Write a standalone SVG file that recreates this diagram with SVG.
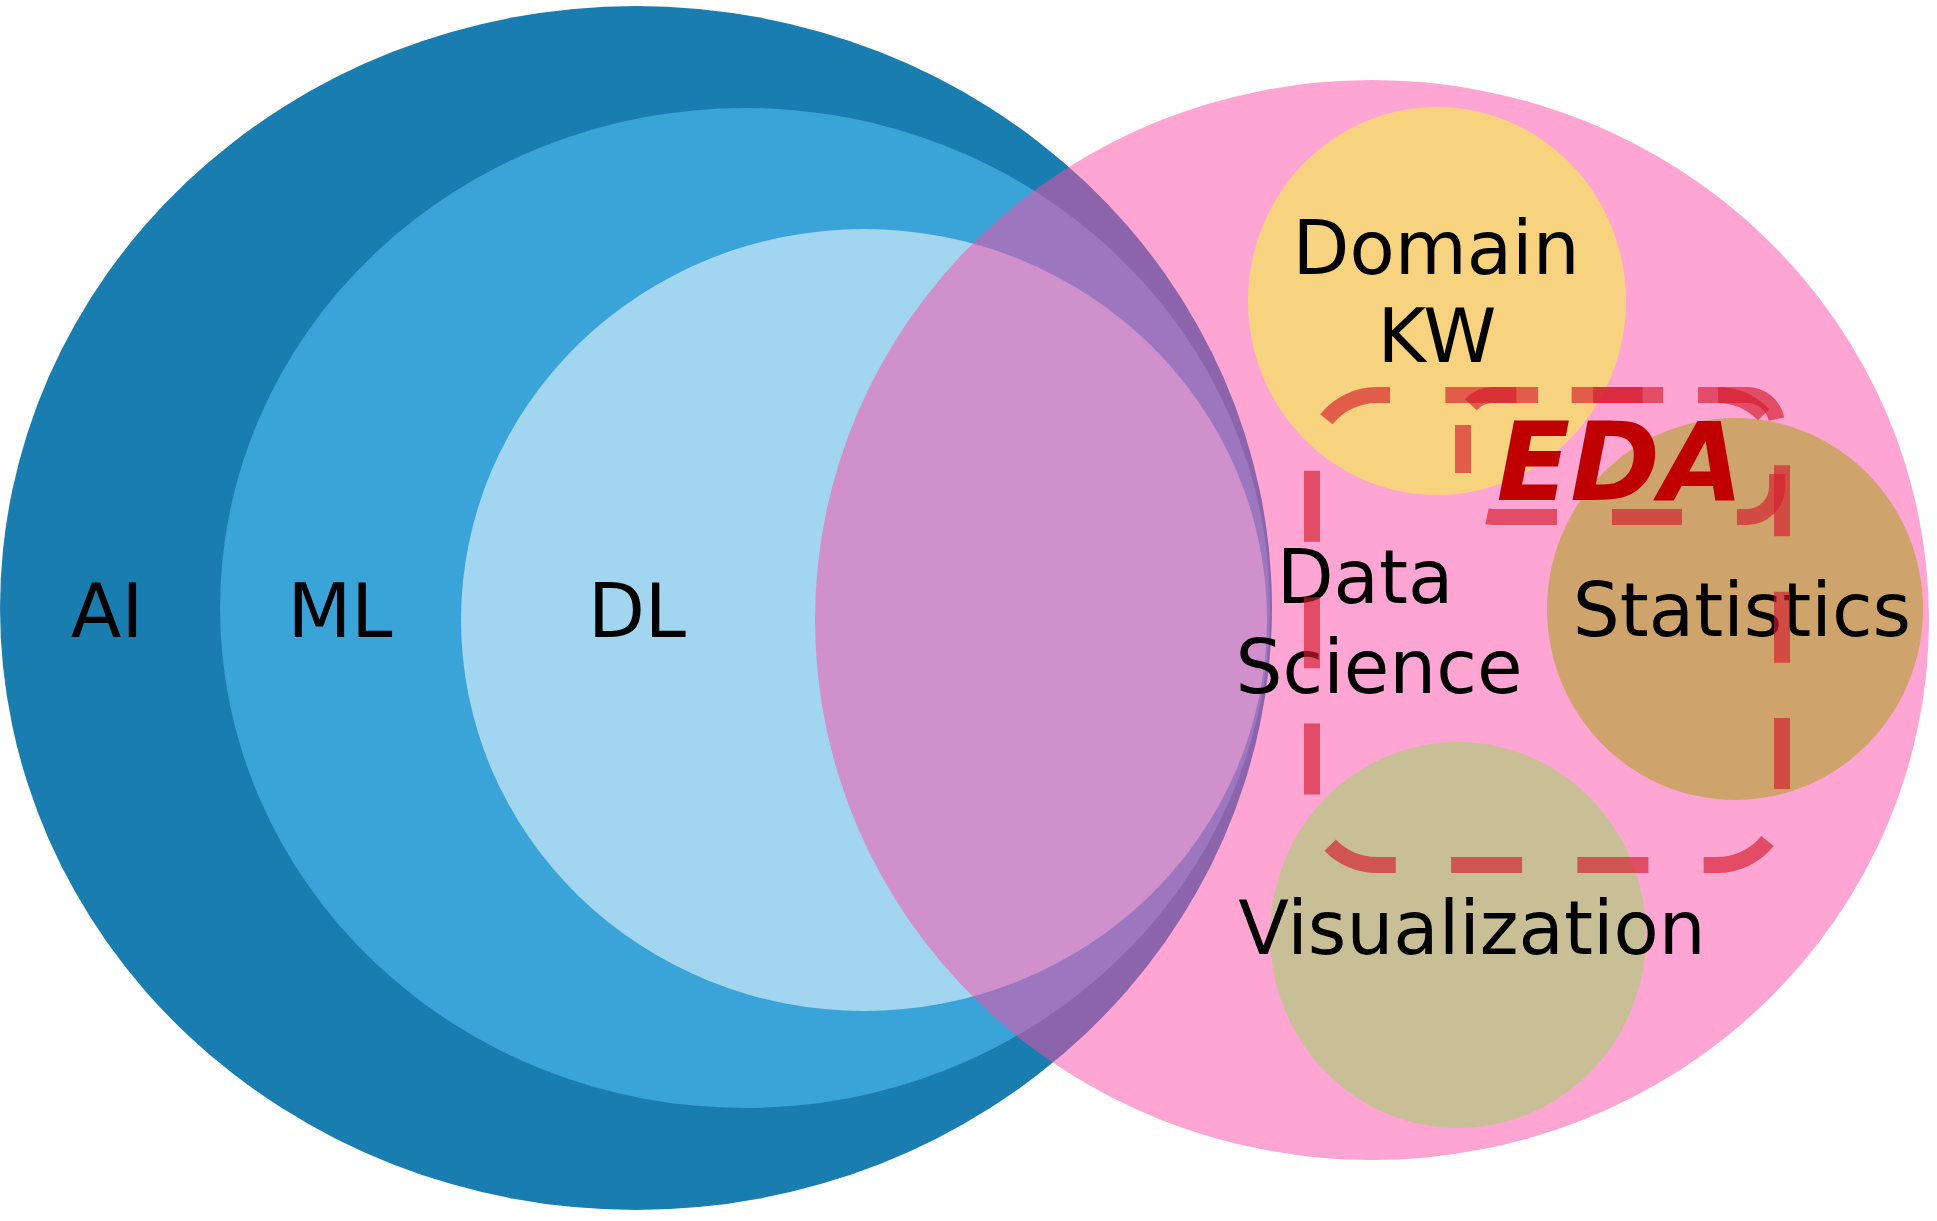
<svg xmlns="http://www.w3.org/2000/svg" width="1937" height="1221" viewBox="0 0 1937 1221">
<style>
.lbl{font-family:"DejaVu Sans","Verdana",sans-serif;font-size:74px;fill:#000;text-anchor:middle}
.dash{fill:none;stroke:rgb(212,28,44);stroke-opacity:0.65;stroke-width:16;stroke-linecap:butt}
.eda{font-family:"DejaVu Sans","Verdana",sans-serif;font-weight:bold;font-style:italic;font-size:108px;fill:#c00000;text-anchor:middle}
</style>
<rect width="1937" height="1221" fill="#ffffff"/>
<g id="ai">
<ellipse cx="636" cy="608" rx="636" ry="602" fill="#1a7db0"/>
</g>
<g id="ml">
<ellipse cx="745" cy="608" rx="525" ry="500" fill="#3aa3d8"/>
</g>
<g id="dl">
<ellipse cx="864" cy="620" rx="403" ry="391" fill="#a2d5ef"/>
</g>
<g id="data-science">
<ellipse cx="1372" cy="620" rx="557" ry="540" fill="rgb(253,75,167)" fill-opacity="0.5"/>
</g>
<g id="domain-kw">
<ellipse cx="1437" cy="301" rx="189" ry="194" fill="#f8d37f"/>
</g>
<g id="statistics">
<ellipse cx="1735" cy="609" rx="188" ry="191" fill="#cfa46c"/>
</g>
<g id="visualization">
<ellipse cx="1458" cy="935" rx="188" ry="193" fill="#c9bf97"/>
</g>
<g id="labels">
<text class="lbl" x="107" y="637">AI</text>
<text class="lbl" x="340" y="637">ML</text>
<text class="lbl" x="637" y="637">DL</text>
<text class="lbl" x="1436" y="274">Domain</text>
<text class="lbl" x="1437" y="362">KW</text>
<text class="lbl" x="1365" y="603">Data</text>
<text class="lbl" x="1379" y="693">Science</text>
<text class="lbl" x="1742" y="636">Statistics</text>
<text class="lbl" x="1472" y="954">Visualization</text>
</g>
<g id="eda">
<path class="dash" stroke-dasharray="71 55.3" stroke-dashoffset="82.3" d="M1312,460 A65,65 0 0 1 1377,395 L1717,395 A65,65 0 0 1 1782,460 L1782,800 A65,65 0 0 1 1717,865 L1377,865 A65,65 0 0 1 1312,800 Z"/>
<path class="dash" stroke-dasharray="70 55" stroke-dashoffset="22" d="M1463,425 L1463,487 A30,30 0 0 0 1493,517 L1747,517 A30,30 0 0 0 1777,487 L1777,425 A30,30 0 0 0 1747,395 L1493,395 A30,30 0 0 0 1463,425 Z"/>
<text class="eda" x="1620" y="500">EDA</text>
</g>
</svg>
